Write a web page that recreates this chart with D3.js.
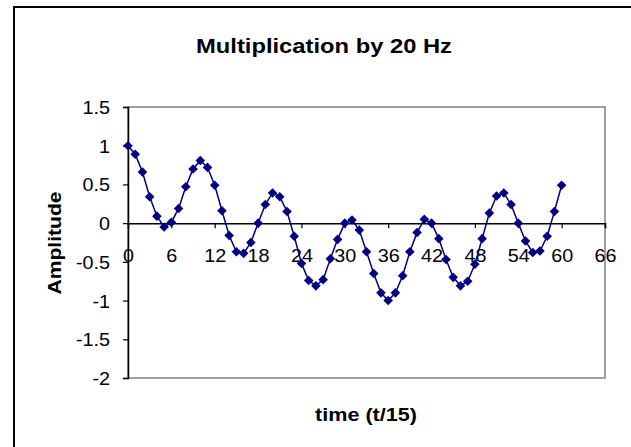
<!DOCTYPE html>
<html>
<head>
<meta charset="utf-8">
<script src="https://cdn.jsdelivr.net/npm/d3@7"></script>
<style>
  body { margin: 0; background: #fff; }
  text { font-family: "Liberation Sans", Arial, sans-serif; fill: #000; }
</style>
</head>
<body>
<div id="chart"></div>
<script>
// time steps (t/15) and amplitude
const times = d3.range(0, 61);
const amplitude = [
  1.0, 0.89, 0.66, 0.34, 0.09, -0.05, 0.01, 0.19, 0.47, 0.70,
  0.81, 0.72, 0.49, 0.16, -0.16, -0.37, -0.39, -0.25, 0.0, 0.24,
  0.39, 0.34, 0.15, -0.17, -0.52, -0.74, -0.81, -0.73, -0.46, -0.21,
  0.0, 0.04, -0.09, -0.37, -0.65, -0.9, -1.0, -0.9, -0.68, -0.37,
  -0.12, 0.05, 0.0, -0.2, -0.47, -0.70, -0.81, -0.75, -0.53, -0.2,
  0.13, 0.35, 0.39, 0.24, 0.0, -0.23, -0.38, -0.36, -0.17, 0.15,
  0.49
];
const xTicks = [0, 6, 12, 18, 24, 30, 36, 42, 48, 54, 60, 66];
const yTicks = [1.5, 1, 0.5, 0, -0.5, -1, -1.5, -2];

const width = 631, height = 447;
const svg = d3.select("#chart").append("svg")
    .attr("width", width)
    .attr("height", height);

// chart frame (runs off the right / bottom edge like the source)
svg.append("rect")
    .attr("x", 14).attr("y", 7)
    .attr("width", 640).attr("height", 460)
    .attr("fill", "#fff")
    .attr("stroke", "#000")
    .attr("stroke-width", 2);

const x = d3.scaleLinear().domain([0, 66]).range([128, 605]);
const y = d3.scaleLinear().domain([-2, 1.5]).range([378, 107]);

// plot area border
svg.append("rect")
    .attr("x", x(0)).attr("y", y(1.5))
    .attr("width", x(66) - x(0)).attr("height", y(-2) - y(1.5))
    .attr("fill", "none")
    .attr("stroke", "#808080")
    .attr("stroke-width", 1.5);

// y axis
const yAxis = svg.append("g")
    .attr("transform", `translate(${x(0)},0)`)
    .call(d3.axisLeft(y).tickValues(yTicks).tickSize(5).tickFormat(d => String(d)));
yAxis.select(".domain").attr("stroke", "#000").attr("stroke-width", 1.5);
yAxis.selectAll(".tick line").attr("stroke", "#000").attr("stroke-width", 1.2);
yAxis.selectAll(".tick text")
    .attr("x", 0).attr("dy", null)
    .attr("transform", "translate(-18,6.5) scale(1.1,1)")
    .style("font-size", "18px");

// x axis crossing at zero
const xAxis = svg.append("g")
    .attr("transform", `translate(0,${y(0)})`)
    .call(d3.axisBottom(x).tickValues(xTicks).tickSize(5));
xAxis.select(".domain").attr("stroke", "#000").attr("stroke-width", 1.5);
xAxis.selectAll(".tick line").attr("stroke", "#000").attr("stroke-width", 1.2);
xAxis.selectAll(".tick text")
    .attr("y", 0).attr("dy", null)
    .attr("transform", "translate(0,39) scale(1.1,1)")
    .style("font-size", "18px");
svg.selectAll(".tick text").style("font-family", "'Liberation Sans', Arial, sans-serif").attr("fill", "#000");

// series line
const line = d3.line()
    .x((d, i) => x(times[i]))
    .y(d => y(d));
svg.append("path")
    .datum(amplitude)
    .attr("d", line)
    .attr("fill", "none")
    .attr("stroke", "#000080")
    .attr("stroke-width", 1.5);

// diamond markers
svg.selectAll(".pt")
    .data(amplitude)
    .enter().append("path")
    .attr("class", "pt")
    .attr("transform", (d, i) => `translate(${x(times[i])},${y(d)})`)
    .attr("d", "M0,-4.8L4.8,0L0,4.8L-4.8,0Z")
    .attr("fill", "#000080");

// titles
svg.append("text")
    .attr("x", 324).attr("y", 53)
    .attr("text-anchor", "middle")
    .attr("textLength", 256)
    .attr("lengthAdjust", "spacingAndGlyphs")
    .style("font-size", "21px").style("font-weight", "bold")
    .text("Multiplication by 20 Hz");

svg.append("text")
    .attr("x", 366).attr("y", 421)
    .attr("text-anchor", "middle")
    .attr("textLength", 102)
    .attr("lengthAdjust", "spacingAndGlyphs")
    .style("font-size", "18px").style("font-weight", "bold")
    .text("time (t/15)");

svg.append("text")
    .attr("transform", "translate(61,243) rotate(-90)")
    .attr("text-anchor", "middle")
    .attr("textLength", 103)
    .attr("lengthAdjust", "spacingAndGlyphs")
    .style("font-size", "18px").style("font-weight", "bold")
    .text("Amplitude");
</script>
</body>
</html>
